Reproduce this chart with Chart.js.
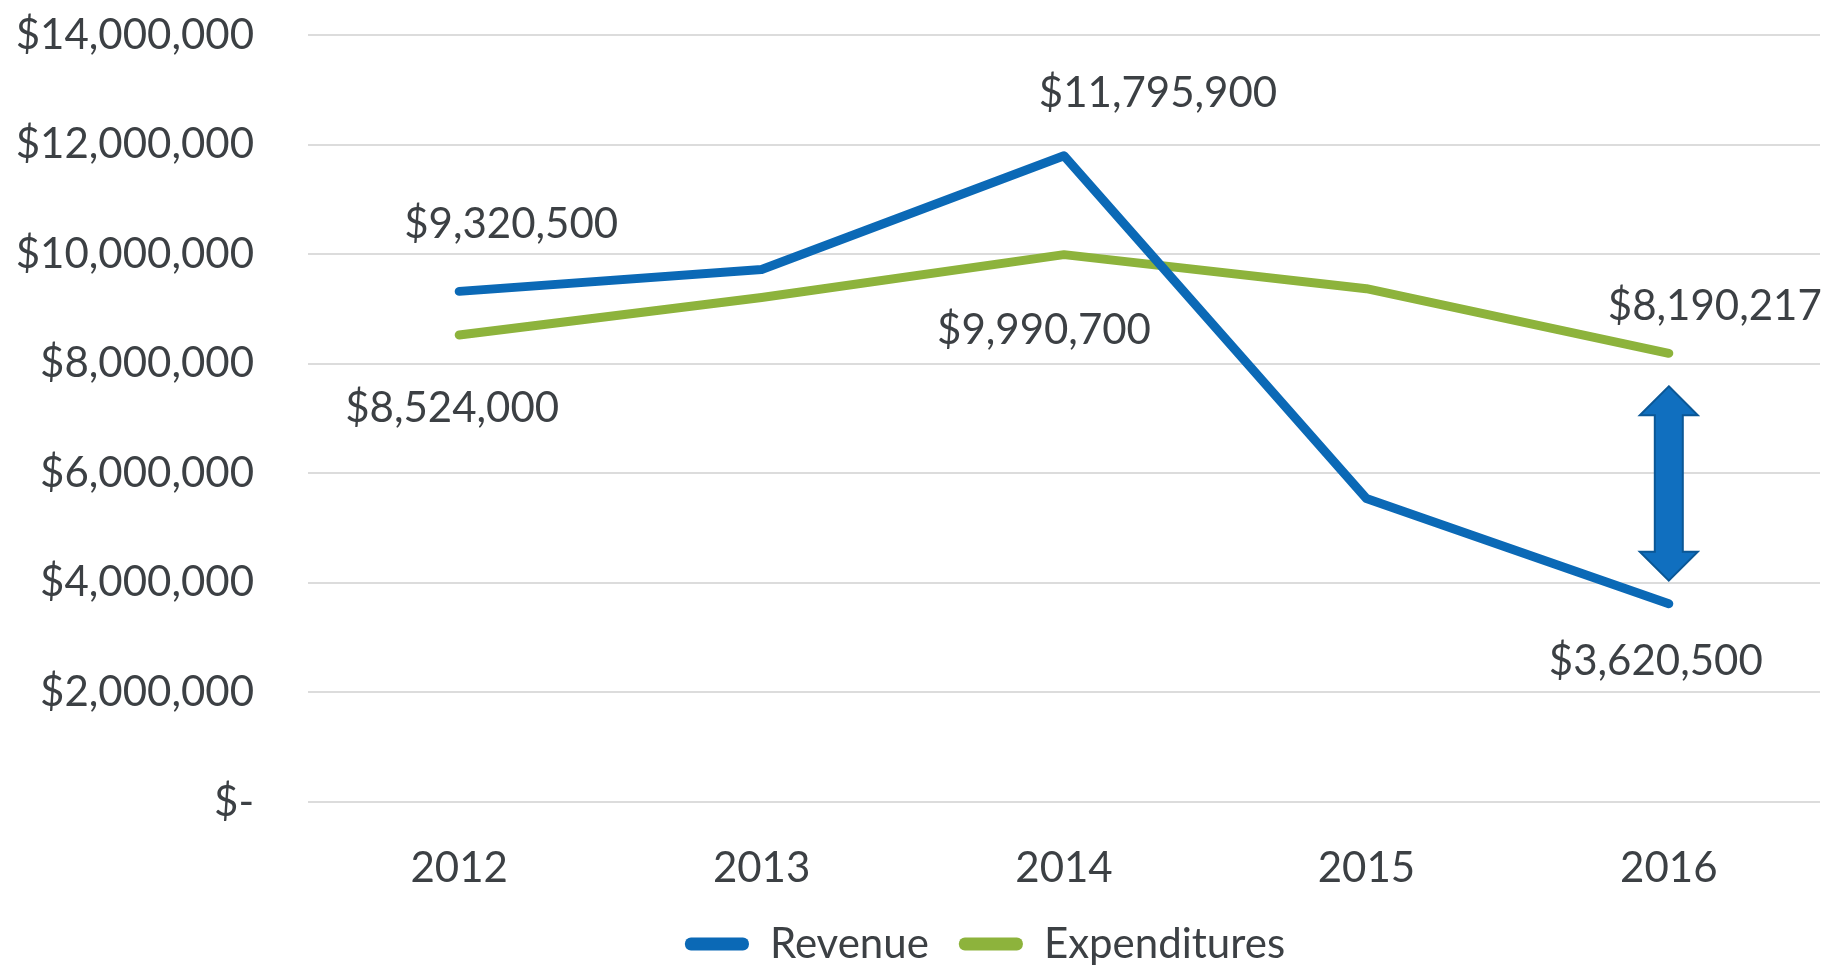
<!DOCTYPE html>
<html>
<head>
<meta charset="utf-8">
<script src="https://cdn.jsdelivr.net/npm/chart.js@4.4.1/dist/chart.umd.min.js"></script>
<style>
  html, body { margin: 0; padding: 0; background: #fff; }
  #wrap { width: 1843px; height: 967px; }
</style>
</head>
<body>
<div id="wrap"><canvas id="chart" width="1843" height="967"></canvas></div>
<script>
// datos
const years = ["2012", "2013", "2014", "2015", "2016"];
const revenue = [9320500, 9720000, 11795900, 5540000, 3620500];
const expenditures = [8524000, 9210000, 9990700, 9370000, 8190217];
const yTicks = [0, 2000000, 4000000, 6000000, 8000000, 10000000, 12000000, 14000000];
const labeledPoints = [0, 2, 4];

const textColor = "#3c4044";
const fontFamily = "Lato";
const blue = "#0b69b6";
const green = "#8db33c";

// desplazamiento [dx, dy] de cada etiqueta respecto a su punto
const revLabelOffset = [[52, -67], [94, -62], [-13, 58]];
const expLabelOffset = [[-7, 73], [-20, 76], [46, -47]];

function formatMoney(v) {
  return v === 0 ? "$-" : "$" + v.toLocaleString("en-US");
}

const etiquetasPlugin = {
  id: "etiquetas",
  afterDatasetsDraw(chart) {
    const ctx = chart.ctx;
    ctx.save();
    ctx.font = `42px ${fontFamily}`;
    ctx.fillStyle = textColor;
    ctx.textAlign = "center";
    ctx.textBaseline = "middle";
    [revLabelOffset, expLabelOffset].forEach((offs, d) => {
      const meta = chart.getDatasetMeta(d);
      const valores = chart.data.datasets[d].data;
      labeledPoints.forEach((i, k) => {
        const p = meta.data[i];
        ctx.fillText(formatMoney(valores[i]), p.x + offs[k][0], p.y + offs[k][1]);
      });
    });
    ctx.restore();
  },
};

// flecha doble entre gastos e ingresos del ultimo año
const flechaPlugin = {
  id: "flecha",
  afterDatasetsDraw(chart) {
    const ctx = chart.ctx;
    const i = years.length - 1;
    const pRev = chart.getDatasetMeta(0).data[i];
    const pExp = chart.getDatasetMeta(1).data[i];
    const x = pRev.x;
    const top = pExp.y + 33;
    const bottom = pRev.y - 23;
    const head = 29, hw = 29, sw = 14;
    ctx.save();
    ctx.beginPath();
    ctx.moveTo(x, top);
    ctx.lineTo(x + hw, top + head);
    ctx.lineTo(x + sw, top + head);
    ctx.lineTo(x + sw, bottom - head);
    ctx.lineTo(x + hw, bottom - head);
    ctx.lineTo(x, bottom);
    ctx.lineTo(x - hw, bottom - head);
    ctx.lineTo(x - sw, bottom - head);
    ctx.lineTo(x - sw, top + head);
    ctx.lineTo(x - hw, top + head);
    ctx.closePath();
    ctx.fillStyle = "#106fbf";
    ctx.fill();
    ctx.lineWidth = 2;
    ctx.strokeStyle = "#0a5796";
    ctx.stroke();
    ctx.restore();
  },
};

// mueve la leyenda a su sitio
const leyendaPlugin = {
  id: "leyendaAjuste",
  afterLayout(chart) {
    const l = chart.legend;
    l.top -= 12;
    l.bottom = chart.height;
    l.left += 75;
    l.right += 75;
  },
};

new Chart(document.getElementById("chart"), {
  type: "line",
  data: {
    labels: years,
    datasets: [
      {
        label: "Revenue",
        data: revenue,
        borderColor: blue,
        backgroundColor: blue,
        borderWidth: 9,
        borderCapStyle: "round",
        borderJoinStyle: "round",
        pointRadius: 0,
        tension: 0,
      },
      {
        label: "Expenditures",
        data: expenditures,
        borderColor: green,
        backgroundColor: green,
        borderWidth: 9,
        borderCapStyle: "round",
        borderJoinStyle: "round",
        pointRadius: 0,
        tension: 0,
      },
    ],
  },
  options: {
    responsive: false,
    animation: false,
    devicePixelRatio: 1,
    layout: { padding: { top: 35, right: 23, left: 0, bottom: 0 } },
    plugins: {
      title: { display: false },
      tooltip: { enabled: false },
      legend: {
        position: "bottom",
        maxHeight: 62,
        labels: {
          font: { family: fontFamily, size: 42 },
          color: textColor,
          boxWidth: 64,
          boxHeight: 13,
          padding: 30,
          useBorderRadius: true,
          borderRadius: 6,
          generateLabels(chart) {
            const items = Chart.defaults.plugins.legend.labels.generateLabels(chart);
            items.forEach((it) => {
              it.lineWidth = 0;
              it.fillStyle = chart.data.datasets[it.datasetIndex].borderColor;
            });
            return items;
          },
        },
      },
    },
    scales: {
      x: {
        offset: true,
        grid: { display: false, drawTicks: false },
        border: { display: false },
        ticks: {
          font: { family: fontFamily, size: 42 },
          color: textColor,
          padding: 41,
          maxRotation: 0,
        },
        afterFit(scale) {
          scale.height = 103;
          scale.paddingLeft = 0;
          scale.paddingRight = 0;
        },
      },
      y: {
        min: 0,
        max: 14000000,
        border: { display: false },
        grid: { color: "#dcdcdc", lineWidth: 2, drawTicks: false },
        afterBuildTicks(scale) {
          scale.ticks = yTicks.map((v) => ({ value: v }));
        },
        ticks: {
          font: { family: fontFamily, size: 42 },
          color: textColor,
          padding: 54,
          callback: (v) => formatMoney(v),
        },
        afterFit(scale) {
          scale.width = 308;
          scale.paddingTop = 0;
          scale.paddingBottom = 0;
        },
      },
    },
  },
  plugins: [etiquetasPlugin, flechaPlugin, leyendaPlugin],
});
</script>
</body>
</html>
